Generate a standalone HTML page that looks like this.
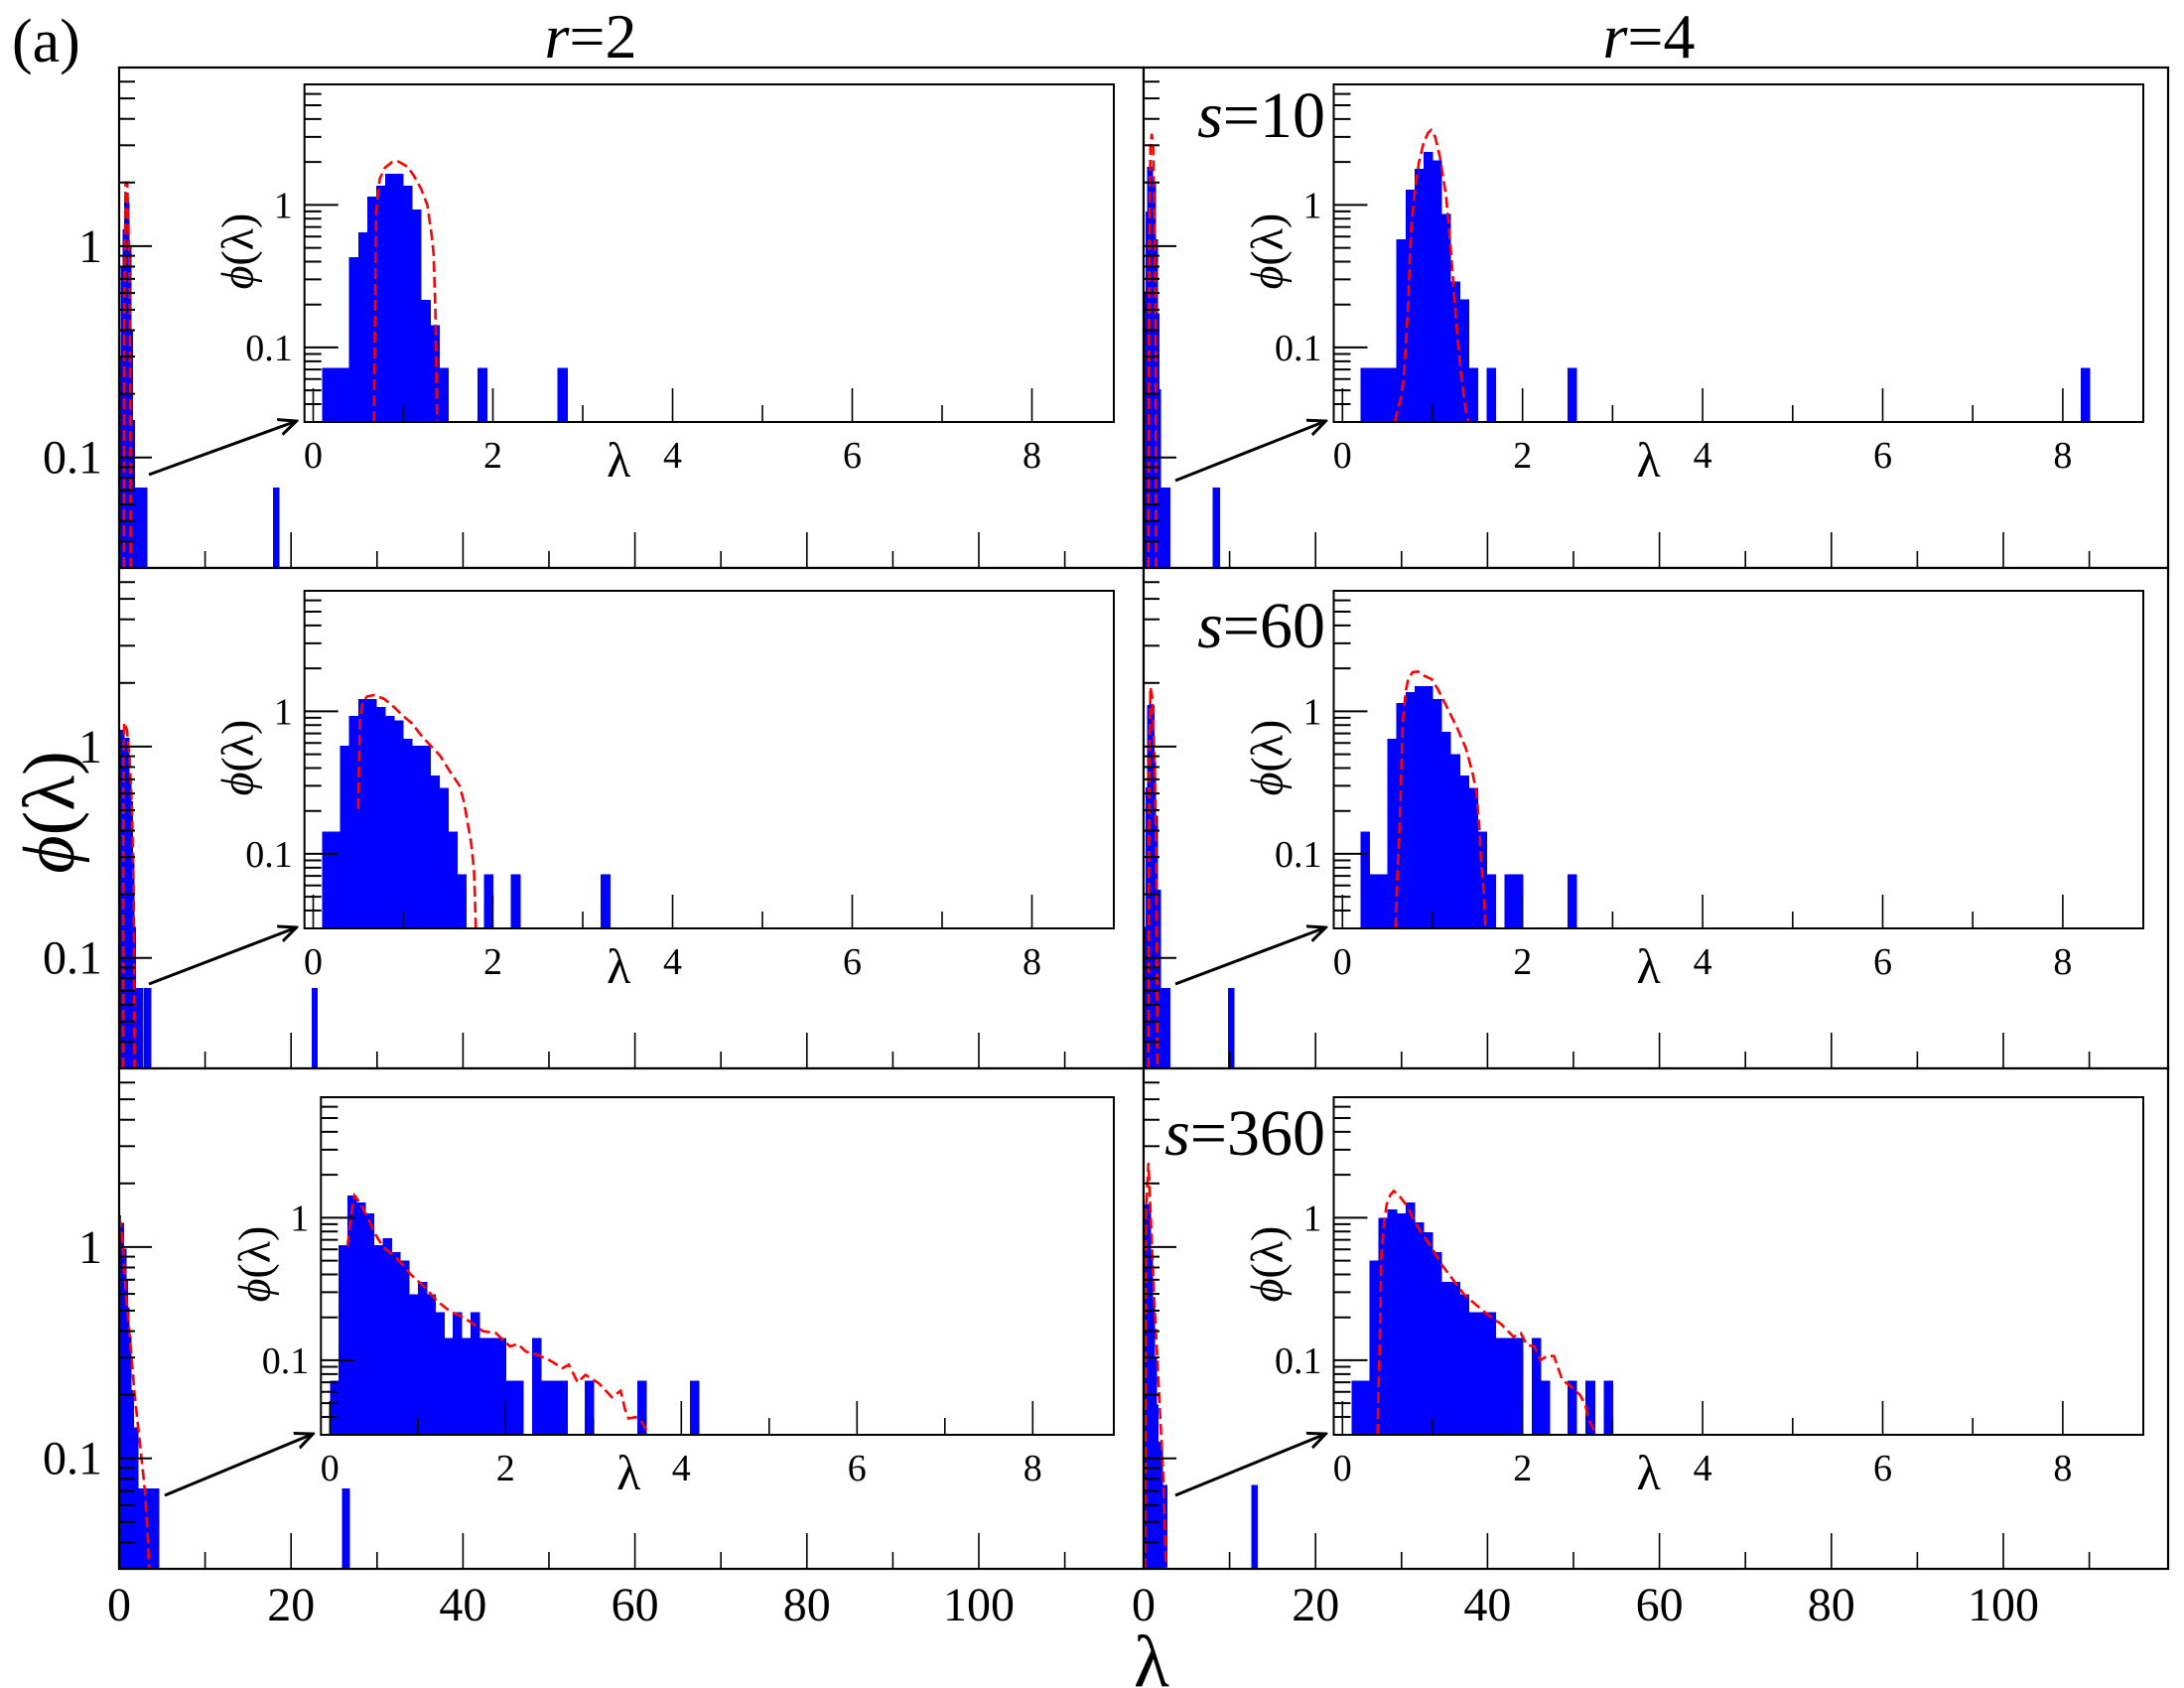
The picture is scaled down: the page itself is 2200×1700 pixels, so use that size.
<!DOCTYPE html>
<html><head><meta charset="utf-8"><style>
html,body{margin:0;padding:0;background:#fff;}
svg{display:block;font-family:"Liberation Serif",serif;}
</style></head><body>
<svg id="fig" width="2200" height="1700" viewBox="0 0 2200 1700" xmlns="http://www.w3.org/2000/svg">
<defs><marker id="ah" viewBox="0 0 20 20" refX="18" refY="10" markerWidth="20" markerHeight="20" markerUnits="userSpaceOnUse" orient="auto"><path d="M0,2 L18,10 L0,18" fill="none" stroke="#000" stroke-width="3"/></marker></defs>
<text x="12" y="62" font-size="62">(a)</text>
<text x="595" y="58" font-size="64" text-anchor="middle"><tspan font-style="italic">r</tspan>=2</text>
<text x="1661" y="58" font-size="64" text-anchor="middle"><tspan font-style="italic">r</tspan>=4</text>
<text transform="translate(74,818) rotate(-90)" font-size="74" text-anchor="middle"><tspan font-style="italic">ϕ</tspan>(λ)</text>
<text x="1160" y="1698" font-size="74" text-anchor="middle">λ</text>
<g id="plots"></g>
</svg>
<script>
// ---------- data ----------
// panel 1: r=2, s=10
const p1InLo=[0.1,0.4,0.5,0.6,0.7,0.8,1.0,1.1,1.2,1.3,1.4,1.83,2.72];
const p1InHi=[0.4,0.5,0.6,0.7,0.8,1.0,1.1,1.2,1.3,1.4,1.5,1.93,2.83];
const p1InVal=[0.072,0.43,0.64,1.14,1.36,1.65,1.36,0.93,0.216,0.143,0.072,0.072,0.072];
const p1CurX=[0.676,0.68,0.69,0.70,0.74,0.8,0.88,0.95,1.05,1.12,1.2,1.27,1.32,1.34,1.36,1.38];
const p1CurY=[0.03,0.053,0.18,0.9,1.52,1.83,2.0,2.01,1.85,1.6,1.3,1.0,0.6,0.45,0.18,0.03];
const p1OutLo=[0,0.2,0.4,0.6,1.15,1.35,1.55,1.8,17.9];
const p1OutHi=[0.2,0.4,0.6,1.15,1.35,1.55,1.8,3.2,18.6];
const p1OutVal=[0.3,0.8,1.2,1.62,1.0,0.4,0.15,0.072,0.072];
const p1OCurX=[0.55,0.6,0.75,0.95,1.2,1.3,1.35];
const p1OCurY=[0.03,0.5,2.0,2.0,0.8,0.2,0.03];
// panel 2: r=4, s=10
const p2InLo=[0.2,0.6,0.7,0.8,0.9,1.0,1.1,1.2,1.3,1.4,1.6,2.5,8.2];
const p2InHi=[0.6,0.7,0.8,0.9,1.0,1.1,1.2,1.3,1.4,1.5,1.7,2.6,8.3];
const p2InVal=[0.072,0.574,1.28,1.79,2.35,2.06,0.86,0.289,0.217,0.072,0.072,0.072,0.072];
const p2CurX=[0.58,0.65,0.68,0.71,0.73,0.75,0.77,0.8,0.85,0.9,0.95,0.985,1.03,1.08,1.15,1.2,1.26,1.31,1.37,1.4];
const p2CurY=[0.03,0.045,0.06,0.12,0.2,0.45,0.76,1.2,2.0,2.7,3.2,3.35,3.0,2.2,1.17,0.52,0.16,0.07,0.036,0.03];
const p2OutLo=[0.04,0.23,0.43,1.0,1.4,1.59,1.78,1.97,8.0];
const p2OutHi=[0.23,0.43,1.0,1.4,1.59,1.78,1.97,3.05,8.8];
const p2OutVal=[0.61,1.46,2.37,1.97,1.08,0.48,0.21,0.072,0.072];
const p2OCurX=[0.55,0.65,0.8,0.95,1.1,1.3,1.4,1.45];
const p2OCurY=[0.03,1.0,3.0,3.4,3.0,1.0,0.3,0.03];
// panel 3: r=2, s=60
const p3InLo=[0.1,0.3,0.4,0.5,0.7,0.8,0.9,1.0,1.1,1.3,1.4,1.5,1.6,1.9,2.2,3.2];
const p3InHi=[0.3,0.4,0.5,0.7,0.8,0.9,1.0,1.1,1.3,1.4,1.5,1.6,1.7,2.0,2.3,3.3];
const p3InVal=[0.143,0.574,0.93,1.22,1.07,0.93,0.86,0.64,0.574,0.355,0.289,0.143,0.072,0.072,0.072,0.072];
const p3CurX=[0.5,0.51,0.52,0.55,0.6,0.68,0.79,0.9,1.0,1.1,1.2,1.3,1.41,1.52,1.63,1.68,1.73,1.76,1.79,1.8,1.81];
const p3CurY=[0.206,0.42,0.88,1.15,1.27,1.3,1.22,1.07,0.93,0.82,0.68,0.58,0.49,0.38,0.3,0.23,0.15,0.117,0.076,0.05,0.03];
const p3OutLo=[0.12,0.58,1.15,1.35,1.54,1.73,1.92,2.89,22.4];
const p3OutHi=[0.58,1.15,1.35,1.54,1.73,1.92,2.77,3.66,23.0];
const p3OutVal=[1.2,1.1,0.75,0.55,0.28,0.14,0.072,0.072,0.072];
const p3OCurX=[0.45,0.5,0.6,0.9,1.2,1.5,1.7,1.8];
const p3OCurY=[0.03,0.9,1.3,1.2,0.9,0.5,0.2,0.03];
// panel 4: r=4, s=60
const p4InLo=[0.2,0.3,0.5,0.6,0.7,0.8,1.0,1.1,1.2,1.3,1.4,1.5,1.6,1.8,2.5];
const p4InHi=[0.3,0.5,0.6,0.7,0.8,1.0,1.1,1.2,1.3,1.4,1.5,1.6,1.7,2.0,2.6];
const p4InVal=[0.143,0.072,0.64,1.14,1.36,1.5,1.22,0.72,0.5,0.355,0.289,0.143,0.072,0.072,0.072];
const p4CurX=[0.59,0.61,0.64,0.65,0.67,0.7,0.73,0.78,0.84,0.91,0.99,1.06,1.17,1.28,1.37,1.44,1.49,1.52,1.54,1.57,1.59];
const p4CurY=[0.03,0.069,0.18,0.34,0.84,1.35,1.68,1.88,1.9,1.77,1.68,1.43,1.04,0.75,0.55,0.38,0.27,0.15,0.09,0.053,0.03];
const p4OutLo=[0.04,0.23,0.43,0.62,0.81,1.2,1.4,1.59,1.78,1.97,9.8];
const p4OutHi=[0.23,0.43,0.62,0.81,1.2,1.4,1.59,1.78,1.97,3.05,10.5];
const p4OutVal=[0.14,0.64,1.57,1.83,1.57,0.86,0.47,0.21,0.21,0.072,0.072];
const p4OCurX=[0.55,0.65,0.8,1.0,1.3,1.5,1.6];
const p4OCurY=[0.03,0.8,1.9,1.7,0.8,0.2,0.03];
// panel 5: r=2, s=360
const p5InLo=[0,0.1,0.2,0.3,0.4,0.5,0.6,0.7,0.8,0.9,1.0,1.1,1.2,1.3,1.4,1.5,1.6,1.7,2.0,2.3,2.4,2.9,3.5,4.1];
const p5InHi=[0.1,0.2,0.3,0.4,0.5,0.6,0.7,0.8,0.9,1.0,1.1,1.2,1.3,1.4,1.5,1.6,1.7,2.0,2.2,2.4,2.7,3.0,3.6,4.2];
const p5InVal=[0.072,0.64,1.43,1.28,1.07,0.64,0.72,0.574,0.5,0.289,0.355,0.289,0.217,0.143,0.217,0.143,0.217,0.143,0.072,0.143,0.072,0.072,0.072,0.072];
const p5CurX=[0.2,0.23,0.26,0.28,0.33,0.43,0.52,0.61,0.76,0.92,1.07,1.22,1.37,1.52,1.63,1.74,1.89,2.05,2.14,2.23,2.35,2.5,2.65,2.72,2.82,2.91,3.06,3.21,3.31,3.36,3.4,3.48,3.55,3.63];
const p5CurY=[0.63,0.89,1.23,1.43,1.3,1.0,0.76,0.62,0.52,0.4,0.33,0.26,0.22,0.2,0.18,0.16,0.155,0.125,0.13,0.115,0.11,0.1,0.088,0.093,0.07,0.079,0.069,0.055,0.061,0.045,0.039,0.04,0.037,0.03];
const p5OutLo=[0,0.19,0.5,0.77,0.96,1.15,1.35,1.65,2.19,25.9];
const p5OutHi=[0.19,0.5,0.77,0.96,1.15,1.35,1.65,2.19,4.6,26.8];
const p5OutVal=[1.41,1.3,0.98,0.7,0.52,0.38,0.21,0.14,0.072,0.072];
const p5OCurX=[0,0.3,0.8,1.3,1.8,2.4,3.0,3.3,3.5];
const p5OCurY=[1.4,1.2,0.6,0.35,0.2,0.12,0.07,0.045,0.03];
// panel 6: r=4, s=360
const p6InLo=[0.1,0.3,0.4,0.5,0.6,0.7,0.8,0.9,1.0,1.1,1.3,1.4,1.7,2.1,2.2,2.5,2.7,2.9];
const p6InHi=[0.3,0.4,0.5,0.6,0.7,0.8,0.9,1.0,1.1,1.3,1.4,1.7,2.0,2.2,2.3,2.6,2.8,3.0];
const p6InVal=[0.072,0.5,1.0,1.14,1.07,1.28,0.93,0.79,0.574,0.355,0.289,0.217,0.143,0.143,0.072,0.072,0.072,0.072];
const p6CurX=[0.39,0.4,0.42,0.43,0.46,0.49,0.53,0.57,0.64,0.71,0.8,0.89,0.99,1.1,1.21,1.35,1.5,1.65,1.76,1.9,1.98,2.05,2.13,2.2,2.27,2.35,2.44,2.53,2.64,2.7,2.73,2.82];
const p6CurY=[0.03,0.062,0.18,0.52,0.89,1.23,1.44,1.54,1.4,1.23,0.94,0.76,0.62,0.47,0.38,0.29,0.24,0.2,0.18,0.146,0.155,0.128,0.125,0.1,0.107,0.107,0.073,0.066,0.057,0.048,0.039,0.03];
const p6OutLo=[0.04,0.23,0.77,1.0,1.27,1.5,1.68,1.85,2.2,12.5];
const p6OutHi=[0.23,0.77,1.0,1.27,1.5,1.68,1.85,2.2,2.7,13.2];
const p6OutVal=[1.6,1.6,0.93,0.56,0.3,0.18,0.12,0.12,0.075,0.075];
const p6OCurX=[0.15,0.3,0.55,0.8,1.2,1.8,2.3,2.6];
const p6OCurY=[0.03,1.5,2.5,1.5,0.6,0.2,0.08,0.03];

// ---------- layout ----------
const NS="http://www.w3.org/2000/svg";
const root=document.getElementById('plots');
const YMIN=0.03,YMAX=7;
function mk(tag,attrs,parent){const e=document.createElementNS(NS,tag);for(const k in attrs)e.setAttribute(k,attrs[k]);(parent||root).appendChild(e);return e;}
function logScale(top,bot){const L0=Math.log10(YMIN),L1=Math.log10(YMAX);return v=>bot-(Math.log10(v)-L0)/(L1-L0)*(bot-top);}
const minorVals=[0.03,0.04,0.05,0.06,0.07,0.08,0.09,0.2,0.3,0.4,0.5,0.6,0.7,0.8,0.9,2,3,4,5,6];
const majorVals=[0.1,1];

function drawHist(g,lo,hi,val,xs,ys,bot,name){
  for(let i=0;i<val.length;i++){
    const x0=xs(lo[i]),x1=xs(hi[i]),y=ys(val[i]);
    const r=mk('rect',{x:x0,y:y,width:Math.max(1.5,x1-x0+0.6),height:bot-y,fill:'#0000ff','shape-rendering':'crispEdges'},g);
    
    
  }
}
function drawCurve(g,cx,cy,xs,ys,name){
  const pts=cx.map((x,i)=>xs(x).toFixed(1)+','+ys(cy[i]).toFixed(1)).join(' ');
  const p=mk('polyline',{points:pts,fill:'none',stroke:'#ff0000','stroke-width':2.6,'stroke-dasharray':'11 5'},g);
  
  
}
function yTicks(g,x0,ys,maj,mnr){
  majorVals.forEach(v=>mk('line',{x1:x0,x2:x0+maj,y1:ys(v),y2:ys(v),stroke:'#000','stroke-width':2},g));
  minorVals.forEach(v=>mk('line',{x1:x0,x2:x0+mnr,y1:ys(v),y2:ys(v),stroke:'#000','stroke-width':2},g));
}

const panels=[
 {name:'r2-s10',col:0,row:0,inLo:p1InLo,inHi:p1InHi,inVal:p1InVal,cx:p1CurX,cy:p1CurY,oLo:p1OutLo,oHi:p1OutHi,oVal:p1OutVal,ocx:p1OCurX,ocy:p1OCurY},
 {name:'r4-s10',col:1,row:0,inLo:p2InLo,inHi:p2InHi,inVal:p2InVal,cx:p2CurX,cy:p2CurY,oLo:p2OutLo,oHi:p2OutHi,oVal:p2OutVal,ocx:p2OCurX,ocy:p2OCurY,s:'10'},
 {name:'r2-s60',col:0,row:1,inLo:p3InLo,inHi:p3InHi,inVal:p3InVal,cx:p3CurX,cy:p3CurY,oLo:p3OutLo,oHi:p3OutHi,oVal:p3OutVal,ocx:p3OCurX,ocy:p3OCurY},
 {name:'r4-s60',col:1,row:1,inLo:p4InLo,inHi:p4InHi,inVal:p4InVal,cx:p4CurX,cy:p4CurY,oLo:p4OutLo,oHi:p4OutHi,oVal:p4OutVal,ocx:p4OCurX,ocy:p4OCurY,s:'60'},
 {name:'r2-s360',col:0,row:2,inLo:p5InLo,inHi:p5InHi,inVal:p5InVal,cx:p5CurX,cy:p5CurY,oLo:p5OutLo,oHi:p5OutHi,oVal:p5OutVal,ocx:p5OCurX,ocy:p5OCurY},
 {name:'r4-s360',col:1,row:2,inLo:p6InLo,inHi:p6InHi,inVal:p6InVal,cx:p6CurX,cy:p6CurY,oLo:p6OutLo,oHi:p6OutHi,oVal:p6OutVal,ocx:p6OCurX,ocy:p6OCurY,s:'360'}
];
const rowTops=[68,572,1076], RH=504;
const colX=[[120,1152],[1152,2184]];
const inTops=[85,595,1105];
const sBase=[138,652,1163];

panels.forEach(P=>{
  const g=mk('g',{});
  
  
  const [ox0,ox1]=colX[P.col]; const oT=rowTops[P.row], oB=oT+RH;
  const oxs=v=>ox0+v*8.66; const oys=logScale(oT,oB);
  mk('rect',{x:ox0,y:oT,width:ox1-ox0,height:RH,fill:'#fff'},g);
  drawHist(g,P.oLo,P.oHi,P.oVal,oxs,oys,oB,'outer-'+P.name);
  drawCurve(g,P.ocx,P.ocy,oxs,oys,'outer-'+P.name);
  for(let v=0;v<=110;v+=10){const tall=v%20===0;mk('line',{x1:oxs(v),x2:oxs(v),y1:oB,y2:oB-(tall?36:17),stroke:'#000','stroke-width':1.6},g);}
  yTicks(g,ox0,oys,33,16);
  const fr=mk('rect',{x:ox0,y:oT,width:ox1-ox0,height:RH,fill:'none',stroke:'#000','stroke-width':2.2},g);
  
  
  if(P.col===0){
    [['1',1],['0.1',0.1]].forEach(([t,v])=>{const e=mk('text',{x:103,y:oys(v)+16,'font-size':48,'text-anchor':'end'},g);e.textContent=t;
      
      });
  }
  if(P.row===2){
    [0,20,40,60,80,100].forEach(v=>{const e=mk('text',{x:oxs(v),y:oB+52,'font-size':48,'text-anchor':'middle'},g);e.textContent=String(v);
      
      });
  }
  let ix0,ix1=P.col===0?1122:2159,zero,unit;
  if(P.col===0){ if(P.row===2){ix0=323.3;zero=332.3;unit=88.5;} else {ix0=306.7;zero=315.5;unit=90.5;} }
  else {ix0=1343.5;zero=1352.3;unit=90.7;}
  const iT=inTops[P.row], iB=iT+340;
  const ixs=v=>zero+v*unit; const iys=logScale(iT,iB);
  const ar=mk('line',{x1:ox0+(P.col===0?(P.row===2?46:30):32),y1:P.row===0?(P.col===0?478:484):(oT+(P.row===1?419:430)),x2:ix0-8,y2:iB-1,stroke:'#000','stroke-width':3,'marker-end':'url(#ah)'},g);
  
  
  const ig=mk('g',{},g);
  
  
  mk('rect',{x:ix0,y:iT,width:ix1-ix0,height:340,fill:'#fff'},ig);
  drawHist(ig,P.inLo,P.inHi,P.inVal,ixs,iys,iB,'inset-'+P.name);
  drawCurve(ig,P.cx,P.cy,ixs,iys,'inset-'+P.name);
  for(let v=0;v<=8;v++){const tall=v%2===0;mk('line',{x1:ixs(v),x2:ixs(v),y1:iB,y2:iB-(tall?34:17),stroke:'#000','stroke-width':1.6},ig);}
  yTicks(ig,ix0,iys,34,17);
  mk('rect',{x:ix0,y:iT,width:ix1-ix0,height:340,fill:'none',stroke:'#000','stroke-width':2},ig);
  [0,2,4,6,8].forEach(v=>{const e=mk('text',{x:ixs(v),y:iB+46,'font-size':38,'text-anchor':'middle'},ig);e.textContent=String(v);
    
    });
  [['1',1],['0.1',0.1]].forEach(([t,v])=>{const e=mk('text',{x:ix0-12,y:iys(v)+13,'font-size':38,'text-anchor':'end'},ig);e.textContent=t;
    
    });
  const xl=mk('text',{x:ixs(3.4),y:iB+55,'font-size':50,'text-anchor':'middle'},ig);xl.textContent='λ';
  
  
  const yl=mk('text',{transform:`translate(${ix0-52},${iT+168}) rotate(-90)`,'font-size':46,'text-anchor':'middle'},ig);
  yl.innerHTML='<tspan font-style="italic">ϕ</tspan>(λ)';
  
  
  if(P.s){
    const st=mk('text',{x:1335,y:sBase[P.row],'font-size':66,'text-anchor':'end'},g);
    st.innerHTML='<tspan font-style="italic">s</tspan>='+P.s;
    
    
  }
});
</script>
</body></html>
